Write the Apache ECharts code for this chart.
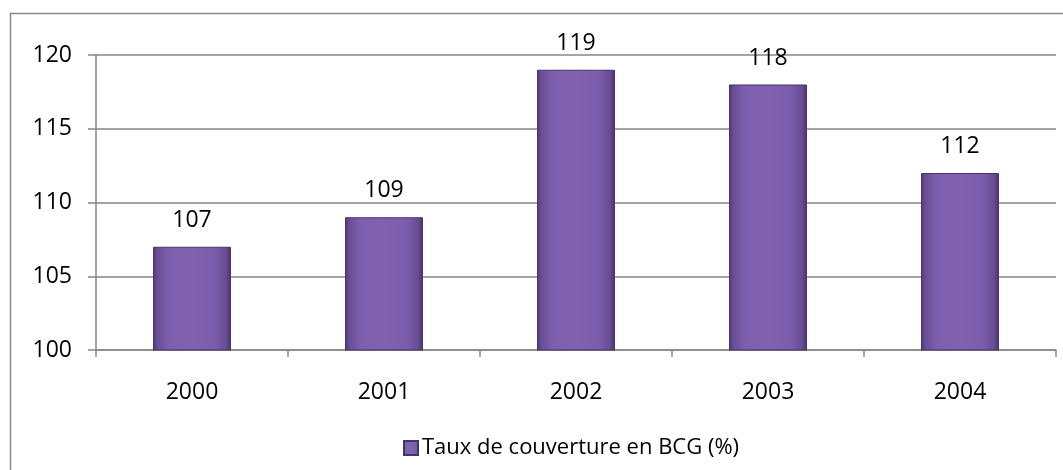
<!DOCTYPE html>
<html><head><meta charset="utf-8">
<script src="https://cdn.jsdelivr.net/npm/echarts@6/dist/echarts.min.js"></script>
<style>html,body{margin:0;padding:0;background:#fff}#c{width:1063px;height:470px}</style>
</head><body><div id="c"></div>
<script>
var categories = ['2000','2001','2002','2003','2004'];
var values = [107,109,119,118,112];
var seriesName = 'Taux de couverture en BCG (%)';
var yMin = 100, yMax = 120, yStep = 5;

var chart = echarts.init(document.getElementById('c'), null, {renderer:'canvas'});
var font = '"Open Sans", "Liberation Sans", sans-serif';
var barFill = new echarts.graphic.LinearGradient(0,0,1,0,[
  {offset:0,color:'#4e3875'},{offset:0.06,color:'#6a4f97'},{offset:0.2,color:'#7c5fae'},
  {offset:0.5,color:'#8162b0'},{offset:0.8,color:'#7a5dab'},{offset:0.94,color:'#664b91'},{offset:1,color:'#48336c'}]);
chart.setOption({
  animation:false,
  graphic:[{type:'rect',shape:{x:10.5,y:13.5,width:1060,height:470},style:{fill:'none',stroke:'#8a8a8a',lineWidth:1.5},z:-1}],
  grid:{left:96,right:7,top:55,bottom:120,containLabel:false},
  legend:{top:432,left:398,itemWidth:14,itemHeight:14,itemGap:6,
    textStyle:{fontFamily:font,fontSize:22,color:'#000',padding:[0,0,0,-1]},
    data:[{name:seriesName,icon:'rect'}]},
  xAxis:{type:'category',data:categories,
    axisLine:{lineStyle:{color:'#868686',width:1.5}},
    axisTick:{show:true,length:7,lineStyle:{color:'#868686',width:1.5}},
    axisLabel:{margin:31,fontFamily:font,fontSize:23,color:'#000'}},
  yAxis:{type:'value',min:yMin,max:yMax,interval:yStep,
    axisLine:{show:true,lineStyle:{color:'#868686',width:1.5}},
    axisTick:{show:true,length:8,lineStyle:{color:'#868686',width:1.5}},
    splitLine:{lineStyle:{color:'#868686',width:1.5}},
    axisLabel:{margin:24,fontFamily:font,fontSize:23,color:'#000'}},
  series:[{name:seriesName,type:'bar',data:values,barWidth:'40.6%',
    itemStyle:{color:barFill,borderColor:'#47336b',borderWidth:1},
    label:{show:true,position:'top',distance:15,fontFamily:font,fontSize:23,color:'#000'}}]
});
</script></body></html>
